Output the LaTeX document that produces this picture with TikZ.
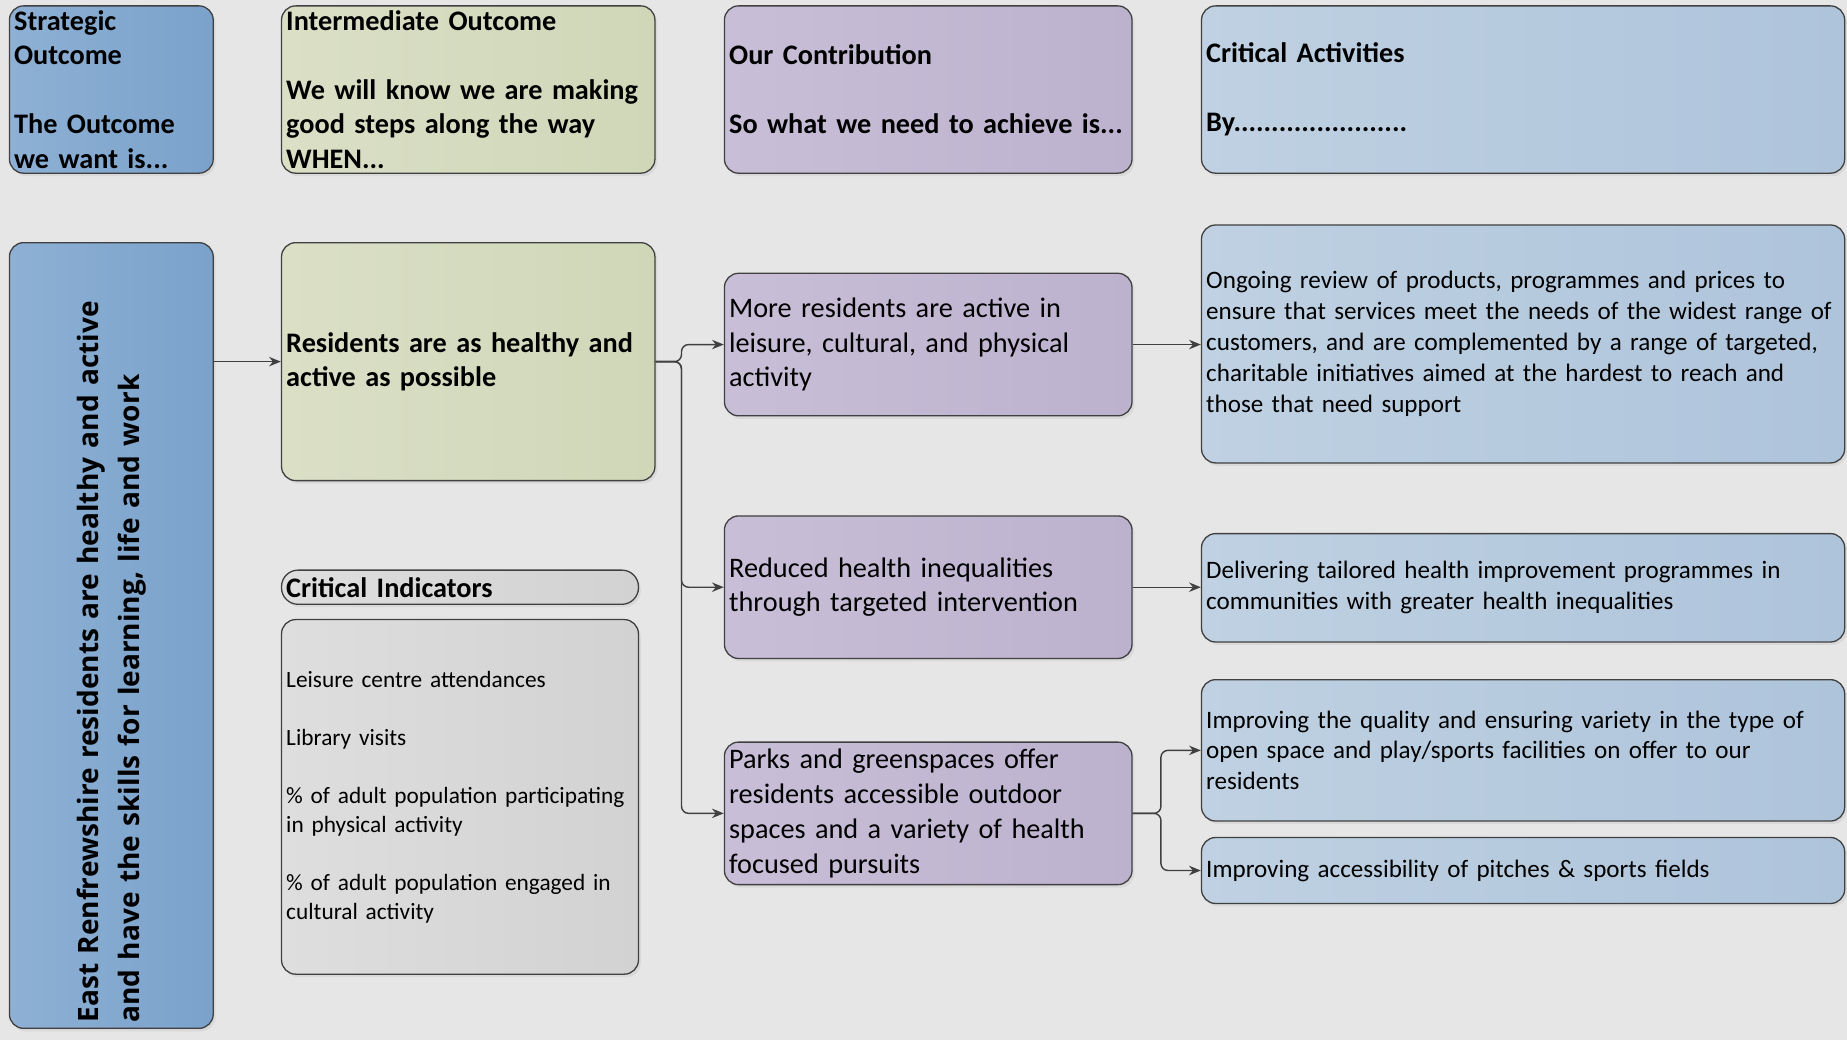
\documentclass[tikz,border=0pt]{standalone}
\usepackage{fontspec}
\setmainfont{Carlito}
\newfontfamily\vertfont{Open Sans}
\usetikzlibrary{arrows.meta, shadows}

\definecolor{bgcol}{HTML}{E6E6E6}
\definecolor{edgecol}{HTML}{404040}
\definecolor{blueL}{HTML}{8EB0D4}
\definecolor{blueR}{HTML}{7AA2CB}
\definecolor{greenL}{HTML}{DADFC6}
\definecolor{greenR}{HTML}{D0D7B8}
\definecolor{purpL}{HTML}{C8BED7}
\definecolor{purpR}{HTML}{BCB2CE}
\definecolor{lblueL}{HTML}{BFD1E2}
\definecolor{lblueR}{HTML}{AEC4DB}
\definecolor{grayL}{HTML}{DEDEDE}
\definecolor{grayR}{HTML}{D2D2D2}

\begin{document}
\begin{tikzpicture}[x=1pt, y=-1pt,
  box/.style = {shape=rectangle, rounded corners=12pt, draw=edgecol, line width=1.1pt,
    align=left, inner xsep=4pt, inner ysep=0pt,
    drop shadow={opacity=0.12, shadow xshift=2pt, shadow yshift=-2.5pt}},
  headfont/.style = {font=\fontsize{24}{29.3}\selectfont\bfseries},
  stratbox/.style = {box, left color=blueL, right color=blueR},
  interbox/.style = {box, left color=greenL, right color=greenR},
  contbox/.style  = {box, left color=purpL, right color=purpR, text width=338pt, minimum height=121pt,
    font=\fontsize{24}{29.5}\selectfont},
  actbox/.style   = {box, left color=lblueL, right color=lblueR, text width=538pt,
    font=\fontsize{21.3}{26.2}\selectfont},
  indbox/.style   = {box, left color=grayL, right color=grayR, text width=295pt},
  conn/.style = {draw=edgecol, line width=1.2pt, -{Stealth[length=10pt, width=8pt]}, rounded corners=6pt}]

  \fill[bgcol] (0,0) rectangle (1568,883);
  \useasboundingbox (0,0) rectangle (1568,883);

  % column headings
  \node[stratbox, headfont, text width=165pt, minimum height=142pt] (hstrat) at (94.5,76)
    {Strategic\\Outcome\\[29.3pt]The Outcome\\we want is...};
  \node[interbox, headfont, text width=309pt, minimum height=142pt] (hinter) at (397.5,76)
    {Intermediate Outcome\\[29.3pt]We will know we are making\\good steps along the way\\WHEN...};
  \node[contbox, headfont, minimum height=142pt] (hcont) at (788,76)
    {Our Contribution\\[29.3pt]So what we need to achieve is...};
  \node[actbox, headfont, minimum height=142pt] (hact) at (1293,76)
    {Critical Activities\\[29.3pt]By.......................};

  % outcomes
  \node[stratbox, rotate=90, text width=657pt, inner xsep=5pt, minimum height=173pt,
    font=\vertfont\bfseries\fontsize{23.8}{35}\selectfont] (strat) at (94.5,539.5)
    {East Renfrewshire residents are healthy and active\\and have the skills for learning, life and work};
  \node[interbox, headfont, text width=309pt, minimum height=202pt] (inter) at (397.5,307)
    {Residents are as healthy and\\active as possible};

  % indicators
  \node[indbox, headfont, rounded corners=14pt, minimum height=29pt] (indhead) at (390.5,498.5)
    {Critical Indicators};
  \node[indbox, minimum height=301pt, font=\fontsize{19.8}{24.6}\selectfont] (ind) at (390.5,676.5)
    {Leisure centre attendances\\[24.6pt]Library visits\\[24.6pt]\% of adult population participating\\in physical activity\\[24.6pt]\% of adult population engaged in\\cultural activity};

  % contributions
  \node[contbox] (pc1) at (788,292.5)
    {More residents are active in\\leisure, cultural, and physical\\activity};
  \node[contbox] (pc2) at (788,498.5)
    {Reduced health inequalities\\through targeted intervention};
  \node[contbox] (pc3) at (788,690.5)
    {Parks and greenspaces offer\\residents accessible outdoor\\spaces and a variety of health\\focused pursuits};

  % critical activities
  \node[actbox, minimum height=202pt] (ca1) at (1293,292)
    {Ongoing review of products, programmes and prices to\\ensure that services meet the needs of the widest range of\\customers, and are complemented by a range of targeted,\\charitable initiatives aimed at the hardest to reach and\\those that need support};
  \node[actbox, minimum height=92pt] (ca2) at (1293,499)
    {Delivering tailored health improvement programmes in\\communities with greater health inequalities};
  \node[actbox, minimum height=120pt] (ca3) at (1293,637)
    {Improving the quality and ensuring variety in the type of\\open space and play/sports facilities on offer to our\\residents};
  \node[actbox, minimum height=56pt] (ca4) at (1293,739)
    {Improving accessibility of pitches \& sports fields};

  % connectors
  \draw[conn] (strat.south |- inter.west) -- (inter.west);
  \draw[conn] (inter.east) -- ++(22,0) |- (pc1.west);
  \draw[conn] (inter.east) -- ++(22,0) |- (pc2.west);
  \draw[conn] (inter.east) -- ++(22,0) |- (pc3.west);
  \draw[conn] (pc1.east) -- (pc1.east -| ca1.west);
  \draw[conn] (pc2.east) -- (pc2.east -| ca2.west);
  \draw[conn] (pc3.east) -- ++(24,0) |- (ca3.west);
  \draw[conn] (pc3.east) -- ++(24,0) |- (ca4.west);
\end{tikzpicture}
\end{document}
